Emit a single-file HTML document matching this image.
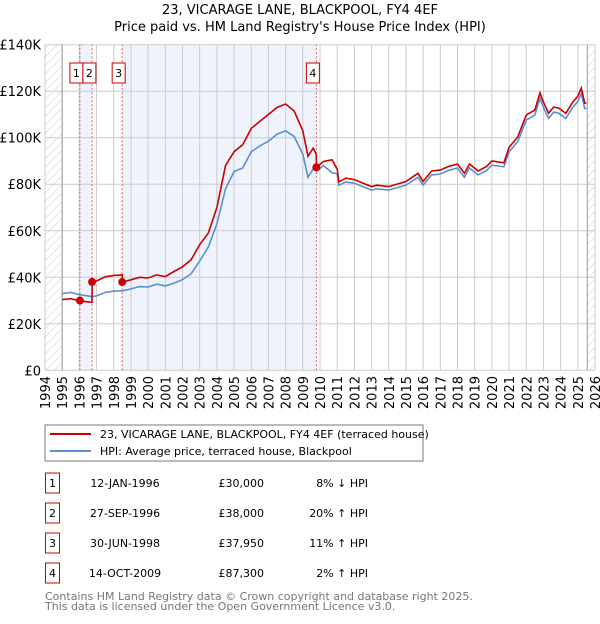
<!DOCTYPE html>
<html><head><meta charset="utf-8"><style>
body{margin:0;background:#fff;font-family:"DejaVu Sans","Liberation Sans",sans-serif}
svg text{font-family:"DejaVu Sans","Liberation Sans",sans-serif}
</style></head><body>
<svg id="c" width="600" height="620" xmlns="http://www.w3.org/2000/svg">
<defs><pattern id="hatch" width="6" height="6" patternUnits="userSpaceOnUse" patternTransform="rotate(45)"><line x1="0" y1="0" x2="0" y2="6" stroke="#ccc" stroke-width="1"/></pattern></defs>
<text x="300" y="14" text-anchor="middle" font-size="13">23, VICARAGE LANE, BLACKPOOL, FY4 4EF</text>
<text x="300" y="31" text-anchor="middle" font-size="13">Price paid vs. HM Land Registry's House Price Index (HPI)</text>
<g id="plot"></g>
<rect x="45" y="425" width="378" height="36" fill="#fff" stroke="#777"/>
<line x1="50" y1="434" x2="91" y2="434" stroke="#cc0000" stroke-width="2"/>
<text x="100" y="438" font-size="11">23, VICARAGE LANE, BLACKPOOL, FY4 4EF (terraced house)</text>
<line x1="50" y1="451" x2="91" y2="451" stroke="#5b8fd4" stroke-width="2"/>
<text x="100" y="455" font-size="11">HPI: Average price, terraced house, Blackpool</text>
<g id="table" font-size="11"></g>
<text x="45" y="600" font-size="11" fill="#777">Contains HM Land Registry data © Crown copyright and database right 2025.</text>
<text x="45" y="610" font-size="11" fill="#777">This data is licensed under the Open Government Licence v3.0.</text>
</svg>
<script>
const years=[1994,1995,1996,1997,1998,1999,2000,2001,2002,2003,2004,2005,2006,2007,2008,2009,2010,2011,2012,2013,2014,2015,2016,2017,2018,2019,2020,2021,2022,2023,2024,2025,2026];
const yTicks=[0,20000,40000,60000,80000,100000,120000,140000];
const yLabels=["£0","£20K","£40K","£60K","£80K","£100K","£120K","£140K"];
const dates=[1995,1995.5,1996,1996.5,1996.73,1996.75,1997,1997.5,1998,1998.49,1998.51,1999,1999.5,2000,2000.5,2001,2001.5,2002,2002.5,2003,2003.5,2004,2004.5,2005,2005.5,2006,2006.5,2007,2007.5,2008,2008.5,2009,2009.3,2009.6,2009.78,2009.8,2010.2,2010.7,2011,2011.1,2011.5,2012,2013,2013.3,2014,2015,2015.7,2016,2016.5,2017,2017.5,2018,2018.4,2018.7,2019.2,2019.7,2020,2020.7,2021,2021.5,2022,2022.5,2022.8,2023,2023.3,2023.6,2023.9,2024.3,2024.7,2025,2025.2,2025.4,2025.5];
const hpi=[33000,33500,32500,32000,31700,31700,32000,33500,34000,34200,34200,35000,36000,35800,37000,36300,37500,39000,41500,47000,53000,63000,78000,85500,87000,94000,96500,98500,101500,103000,100500,93000,83000,86500,85800,85600,88000,85000,84500,79500,81000,80400,77500,78000,77500,79600,83000,79600,84000,84400,86000,87000,83000,87000,84000,86000,88200,87500,94000,98300,107600,109700,117000,113000,108300,111000,110500,108300,113000,115500,119000,112600,112600];
const price=[30400,30800,29900,29400,29200,38000,38400,40200,40800,41000,37950,38900,40000,39700,41000,40300,42500,44500,47500,54000,59000,70000,88000,94000,97000,104000,107000,110000,113000,114500,111500,103000,92000,95500,93000,87300,89800,90500,86500,81000,82600,82000,79000,79600,79000,81200,84700,81200,85700,86100,87700,88700,84700,88700,85700,87700,90000,89200,95900,100300,109800,111900,119300,115300,110500,113200,112700,110500,115300,117800,121400,114900,114900];
const saleNums=["1","2","3","4"];
const saleDates=[1996.03,1996.74,1998.49,2009.79];
const salePrices=[30000,38000,37950,87300];
const saleDateLabels=["12-JAN-1996","27-SEP-1996","30-JUN-1998","14-OCT-2009"];
const salePriceLabels=["£30,000","£38,000","£37,950","£87,300"];
const saleHpiLabels=["8% ↓ HPI","20% ↑ HPI","11% ↑ HPI","2% ↑ HPI"];

const NS="http://www.w3.org/2000/svg";
const X=t=>45+(t-1994)*550/32;
const Y=v=>370.3-v*(325.6/140000);
function mk(tag,attrs,parent){const e=document.createElementNS(NS,tag);for(const k in attrs)e.setAttribute(k,attrs[k]);parent.appendChild(e);return e;}
const g=document.getElementById('plot');
let b1=mk('rect',{x:X(saleDates[0]),y:Y(140000),width:X(saleDates[1])-X(saleDates[0]),height:Y(0)-Y(140000),fill:'#eef3fc'},g);


let b2=mk('rect',{x:X(saleDates[2]),y:Y(140000),width:X(saleDates[3])-X(saleDates[2]),height:Y(0)-Y(140000),fill:'#eef3fc'},g);


let h1=mk('rect',{x:X(1994),y:Y(140000),width:X(1995)-X(1994),height:Y(0)-Y(140000),fill:'url(#hatch)'},g);


let h2=mk('rect',{x:X(2025.55),y:Y(140000),width:X(2026)-X(2025.55),height:Y(0)-Y(140000),fill:'url(#hatch)'},g);


years.forEach(yr=>{
 let l=mk('line',{x1:X(yr),x2:X(yr),y1:Y(0),y2:Y(140000),stroke:'#ccc','stroke-width':1},g);
 
 
 let t=mk('text',{x:0,y:0,'font-size':13,'text-anchor':'end',transform:`translate(${X(yr)+5},376) rotate(-90)`},g);
 t.textContent=yr;
 
 
});
yTicks.forEach((v,i)=>{
 let l=mk('line',{x1:X(1994),x2:X(2026),y1:Y(v),y2:Y(v),stroke:'#ccc','stroke-width':1},g);
 
 
 let t=mk('text',{x:41,y:Y(v)+5,'font-size':13,'text-anchor':'end'},g);
 t.textContent=yLabels[i];
 
 
});
let a1=mk('line',{x1:X(1995),x2:X(1995),y1:Y(0),y2:Y(140000),stroke:'#999'},g);


let a2=mk('line',{x1:X(2025.55),x2:X(2025.55),y1:Y(0),y2:Y(140000),stroke:'#999'},g);


let prevRight=-1e9;
saleDates.forEach((d,i)=>{
 let l=mk('line',{x1:X(d),x2:X(d),y1:Y(0),y2:Y(140000),stroke:'#e06060','stroke-dasharray':'2,2'},g);
 
 
 let bx=X(d)-10;
 if(bx<prevRight) bx=prevRight;
 prevRight=bx+13;
 let r=mk('rect',{x:bx,y:63,width:13,height:20,fill:'#fff',stroke:'#c00'},g);
 
 
 let t=mk('text',{x:bx+6.5,y:77,'font-size':11,'text-anchor':'middle'},g);
 t.textContent=saleNums[i];
 
 
});
const path=arr=>arr.map((v,i)=>(i?'L':'M')+X(dates[i]).toFixed(1)+','+Y(v).toFixed(1)).join('');
let ph=mk('path',{d:path(hpi),fill:'none',stroke:'#5b8fd4','stroke-width':1.6},g);


let pp=mk('path',{d:path(price),fill:'none',stroke:'#cc0000','stroke-width':1.6},g);


saleDates.forEach((d,i)=>{
 let c=mk('circle',{cx:X(d),cy:Y(salePrices[i]),r:4,fill:'#cc0000'},g);
 
 
});
const tb=document.getElementById('table');
saleNums.forEach((n,i)=>{
 const cy=483+i*30;
 let r=mk('rect',{x:45.5,y:cy-10,width:14,height:20,fill:'#fff',stroke:'#c00'},tb);
 
 
 let t=mk('text',{x:52.5,y:cy+4,'text-anchor':'middle'},tb);t.textContent=n;
 
 
 let d=mk('text',{x:125,y:cy+4,'text-anchor':'middle'},tb);d.textContent=saleDateLabels[i];
 
 
 let p=mk('text',{x:264,y:cy+4,'text-anchor':'end'},tb);p.textContent=salePriceLabels[i];
 
 
 let h=mk('text',{x:368,y:cy+4,'text-anchor':'end'},tb);h.textContent=saleHpiLabels[i];
 
 
});
</script>
</body></html>
